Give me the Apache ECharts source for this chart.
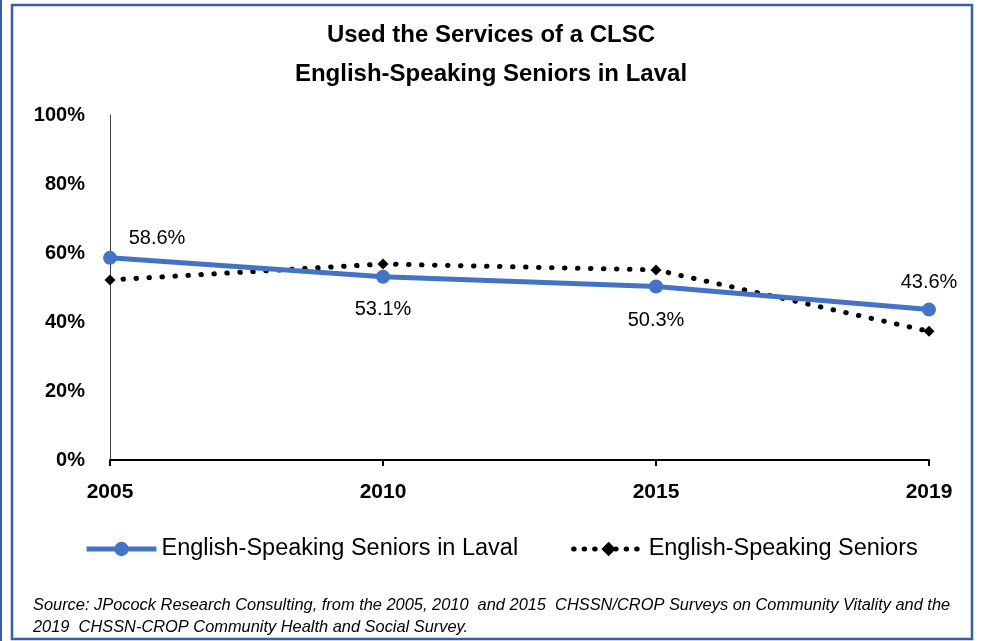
<!DOCTYPE html>
<html>
<head>
<meta charset="utf-8">
<script src="https://cdn.jsdelivr.net/npm/echarts@6/dist/echarts.min.js"></script>
<style>
html,body{margin:0;padding:0;background:#fff;}
#chart{width:982px;height:641px;}
</style>
</head>
<body>
<div id="chart"></div>
<script>
const titleLines = ['Used the Services of a CLSC', 'English-Speaking Seniors in Laval'];
const categories = ['2005', '2010', '2015', '2019'];
const lavalName = 'English-Speaking Seniors in Laval';
const lavalValues = [58.6, 53.1, 50.3, 43.6];
const allName = 'English-Speaking Seniors';
const allValues = [52.2, 56.8, 55.1, 37.3];
const yTicks = [0, 20, 40, 60, 80, 100];
const sourceLines = [
  'Source: JPocock Research Consulting, from the 2005, 2010  and 2015  CHSSN/CROP Surveys on Community Vitality and the',
  '2019  CHSSN-CROP Community Health and Social Survey.'
];

const sans = '"Liberation Sans", Arial, sans-serif';
const labelOffsets = [[47, -19], [0, 33], [0, 34], [0, -27]];

const chart = echarts.init(document.getElementById('chart'), null, {renderer: 'canvas'});
chart.setOption({
  animation: false,
  backgroundColor: '#fff',
  title: {
    text: titleLines.join('\n'),
    left: 'center',
    top: 11,
    textStyle: {fontFamily: sans, fontWeight: 'bold', fontSize: 24, color: '#000', lineHeight: 39}
  },
  grid: {left: 110, right: 53, top: 115, bottom: 181, containLabel: false},
  xAxis: {
    type: 'category',
    data: categories,
    boundaryGap: false,
    axisLine: {lineStyle: {color: '#000', width: 2}},
    axisTick: {show: true, length: 6, lineStyle: {color: '#000', width: 2}},
    axisLabel: {fontFamily: sans, fontWeight: 'bold', fontSize: 21, color: '#000', margin: 22},
    splitLine: {show: false}
  },
  yAxis: {
    type: 'value',
    min: yTicks[0],
    max: yTicks[yTicks.length - 1],
    interval: 20,
    axisLine: {show: true, lineStyle: {color: '#404040', width: 1}},
    axisTick: {show: false},
    splitLine: {show: false},
    axisLabel: {fontFamily: sans, fontWeight: 'bold', fontSize: 20, color: '#000', margin: 25,
      formatter: v => v + '%'}
  },
  legend: {
    left: 79,
    top: 532,
    itemWidth: 70,
    itemHeight: 18,
    itemGap: 53,
    textStyle: {fontFamily: sans, fontSize: 23.5, color: '#000'},
    data: [
      {name: lavalName, lineStyle: {width: 5}},
      {name: allName, lineStyle: {width: 5, type: [0.5, 10], cap: 'round'}}
    ]
  },
  series: [
    {
      name: allName,
      type: 'line',
      data: allValues,
      symbol: 'diamond',
      symbolSize: 11,
      itemStyle: {color: '#000'},
      lineStyle: {color: '#000', width: 5, type: [0.5, 12.5], cap: 'round'},
      z: 2
    },
    {
      name: lavalName,
      type: 'line',
      data: lavalValues.map((v, i) => ({
        value: v,
        label: {offset: labelOffsets[i]}
      })),
      symbol: 'circle',
      symbolSize: 14,
      itemStyle: {color: '#4472C4'},
      lineStyle: {color: '#4472C4', width: 5},
      label: {
        show: true,
        position: 'inside',
        fontFamily: sans,
        fontSize: 20,
        color: '#000',
        formatter: p => p.value.toFixed(1) + '%'
      },
      z: 3
    }
  ],
  graphic: [
    {type: 'rect', shape: {x: 12, y: 5, width: 960, height: 634}, style: {fill: 'none', stroke: '#3a5da5', lineWidth: 2.5}, silent: true},
    {type: 'line', shape: {x1: 1, y1: 0, x2: 1, y2: 641}, style: {stroke: '#3a5da5', lineWidth: 2}, silent: true},
    {type: 'text', left: 33, top: 594, style: {text: sourceLines.join('\n'), fontFamily: sans, fontStyle: 'italic', fontSize: 16.4, lineHeight: 22, fill: '#000'}}
  ]
});
</script>
</body>
</html>
